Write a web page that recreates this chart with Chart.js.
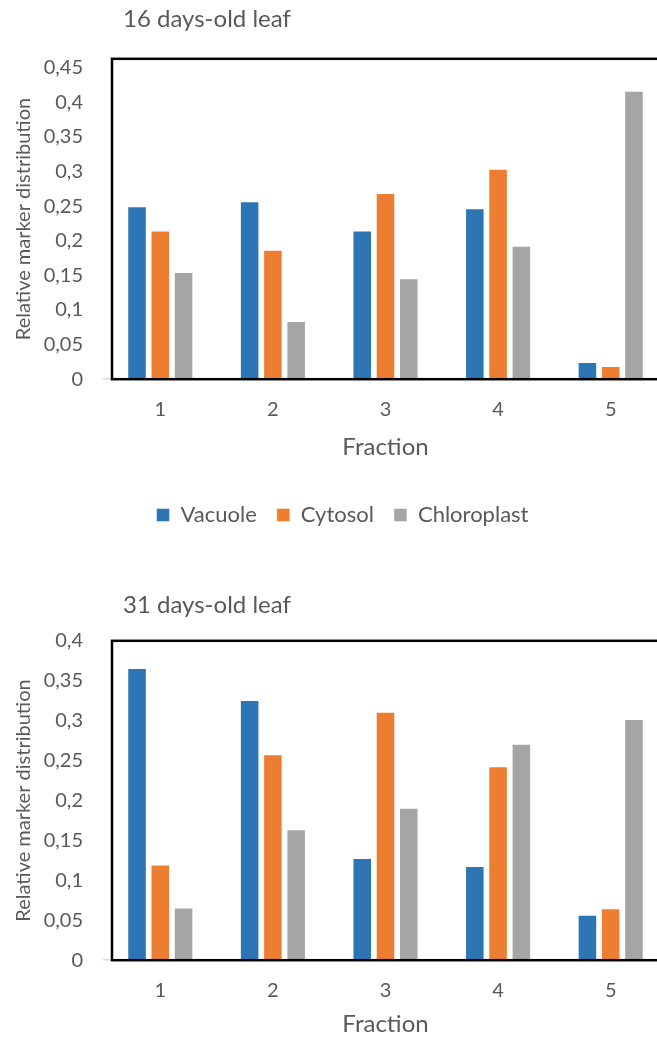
<!DOCTYPE html>
<html>
<head>
<meta charset="utf-8">
<script src="https://cdn.jsdelivr.net/npm/chart.js@4.4.0/dist/chart.umd.min.js"></script>
<style>
html, body { margin: 0; padding: 0; background: #fff; overflow: hidden; width: 657px; height: 1039px; }
.wrap { position: absolute; left: 0; }
#w1 { top: 0; }
#w2 { top: 548px; }
canvas { display: block; }
</style>
</head>
<body>
<div class="wrap" id="w1"><canvas id="chart16" width="686" height="548"></canvas></div>
<div class="wrap" id="w2"><canvas id="chart31" width="686" height="491"></canvas></div>
<script>
// データ
const fractions = ['1', '2', '3', '4', '5'];
const seriesNames = ['Vacuole', 'Cytosol', 'Chloroplast'];
const seriesColors = ['#2E75B6', '#ED7D31', '#A5A5A5'];

// 16 days-old leaf
const vacuole16 = [0.25, 0.257, 0.215, 0.247, 0.025];
const cytosol16 = [0.215, 0.187, 0.269, 0.304, 0.019];
const chloroplast16 = [0.155, 0.084, 0.146, 0.193, 0.417];

// 31 days-old leaf
const vacuole31 = [0.366, 0.326, 0.128, 0.118, 0.057];
const cytosol31 = [0.12, 0.258, 0.311, 0.243, 0.065];
const chloroplast31 = [0.066, 0.164, 0.191, 0.271, 0.302];

const tickStep = 0.05;
const yTop16 = 0.463;
const yTop31 = 0.4;

Chart.defaults.font.family = 'Lato';
Chart.defaults.color = '#595959';

const textColor = '#595959';

// プロット枠（黒い枠線）
const plotBox = {
    id: 'plotBox',
    afterDatasetsDraw(chart) {
        const { ctx, chartArea } = chart;
        ctx.save();
        ctx.strokeStyle = '#000';
        ctx.lineWidth = 2.5;
        ctx.strokeRect(chartArea.left + 8, chartArea.top, chartArea.right - chartArea.left + 30, chartArea.bottom - chartArea.top);
        ctx.restore();
    }
};

// タイトルと凡例の位置調整
const shiftBlocks = {
    id: 'shiftBlocks',
    afterLayout(chart) {
        if (chart.titleBlock) {
            chart.titleBlock.left = chart.chartArea.left + 19;
        }
        if (chart.legend && chart.legend.options.display) {
            chart.legend.left += 9;
            chart.legend.right += 9;
        }
    }
};

function makeDatasets(values) {
    return values.map((data, i) => ({
        label: seriesNames[i],
        data: data,
        backgroundColor: seriesColors[i],
        borderColor: 'rgba(255,255,255,0.45)',
        borderWidth: 1,
        categoryPercentage: 0.62,
        barPercentage: 0.84
    }));
}

function makeOptions(titleText, yMax, showLegend, titlePad, xTitlePad, layoutPad) {
    return {
        responsive: false,
        animation: false,
        layout: { padding: layoutPad },
        plugins: {
            title: {
                display: true,
                text: titleText,
                align: 'start',
                color: textColor,
                font: { size: 24, weight: 'normal' },
                padding: titlePad
            },
            legend: {
                display: showLegend,
                position: 'bottom',
                labels: {
                    boxWidth: 13,
                    boxHeight: 13,
                    color: textColor,
                    font: { size: 22 },
                    padding: 20
                }
            },
            tooltip: { enabled: false }
        },
        scales: {
            x: {
                grid: { display: false, drawTicks: false },
                border: { display: true, color: '#D9D9D9', width: 1.5 },
                ticks: { color: textColor, font: { size: 20 }, padding: 18 },
                title: {
                    display: true,
                    text: 'Fraction',
                    color: textColor,
                    font: { size: 24 },
                    padding: xTitlePad
                }
            },
            y: {
                min: 0,
                max: yMax,
                bounds: 'data',
                grid: { display: false, drawTicks: false },
                border: { display: false },
                ticks: {
                    stepSize: tickStep,
                    includeBounds: false,
                    color: textColor,
                    font: { size: 20 },
                    padding: 21,
                    callback: (v) => String(Number(v.toFixed(2))).replace('.', ',')
                },
                title: {
                    display: true,
                    text: 'Relative marker distribution',
                    color: textColor,
                    font: { size: 20 },
                    padding: { top: 12, bottom: 0 }
                },
                afterFit(scale) {
                    scale.width = 104;
                }
            }
        }
    };
}

new Chart(document.getElementById('chart16'), {
    type: 'bar',
    data: {
        labels: fractions,
        datasets: makeDatasets([vacuole16, cytosol16, chloroplast16])
    },
    options: makeOptions('16 days-old leaf', yTop16, true,
        { top: 5, bottom: 25 }, { top: -6, bottom: 22 },
        { left: 0, right: 19, top: 0, bottom: 12 }),
    plugins: [plotBox, shiftBlocks]
});

new Chart(document.getElementById('chart31'), {
    type: 'bar',
    data: {
        labels: fractions,
        datasets: makeDatasets([vacuole31, cytosol31, chloroplast31])
    },
    options: makeOptions('31 days-old leaf', yTop31, false,
        { top: 43, bottom: 21 }, { top: -10, bottom: 0 },
        { left: 0, right: 19, top: 0, bottom: 0 }),
    plugins: [plotBox, shiftBlocks]
});
</script>
</body>
</html>
